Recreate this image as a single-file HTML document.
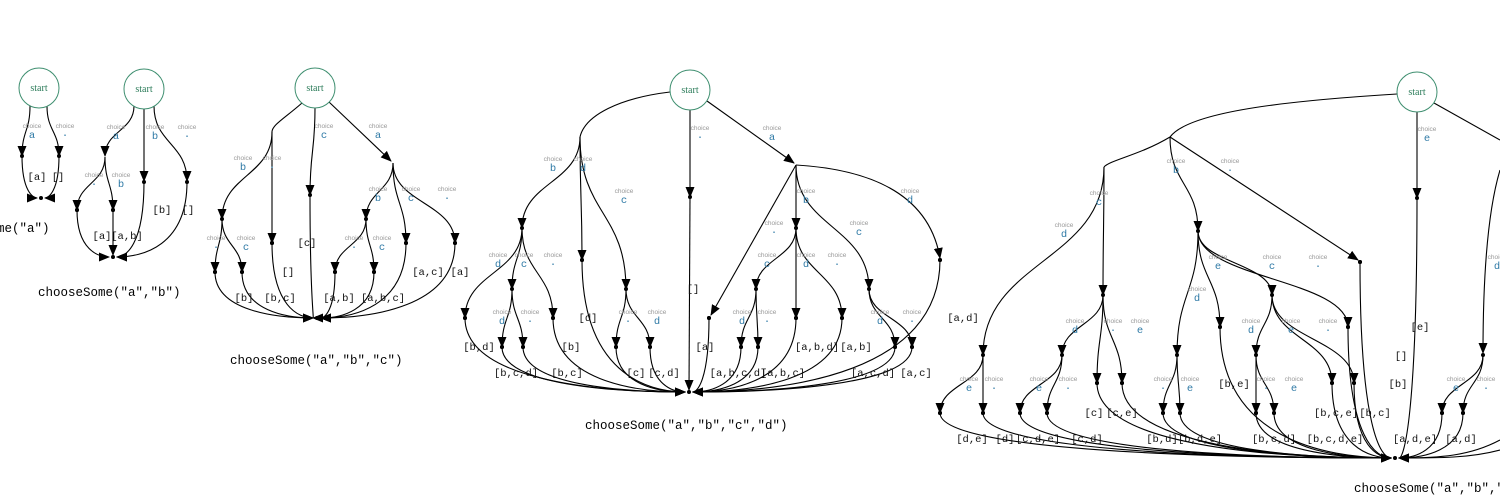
<!DOCTYPE html>
<html><head><meta charset="utf-8">
<style>
html,body{margin:0;padding:0;background:#fff;}
svg{display:block}
.ch{font-family:"Liberation Sans",sans-serif;font-size:6.5px;fill:#999;text-anchor:middle}
.cl{font-family:"Liberation Mono",monospace;font-size:10.5px;fill:#2f7aa6;text-anchor:middle}
.lb{font-family:"Liberation Mono",monospace;font-size:10.5px;fill:#111;text-anchor:middle}
.cap{font-family:"Liberation Mono","DejaVu Sans Mono",monospace;font-size:12.5px;fill:#000}
.st{font-family:"Liberation Serif",serif;font-size:10px;fill:#2e7d5b;text-anchor:middle}
</style></head><body>
<svg id="s" width="1500" height="500" viewBox="0 0 1500 500" xmlns="http://www.w3.org/2000/svg">
<defs><marker id="a" markerUnits="userSpaceOnUse" markerWidth="11" markerHeight="9" refX="10" refY="4.5" orient="auto"><path d="M0,0 L11,4.5 L0,9 z" fill="#000"/></marker></defs>
<g id="edges" fill="none" stroke="#000" stroke-width="1.1"></g>
<g fill="#fff" stroke="#3f8f70" stroke-width="1">
<circle cx="39" cy="88" r="20"/><circle cx="144" cy="89" r="20"/><circle cx="315" cy="88" r="20"/><circle cx="690" cy="90" r="20"/><circle cx="1417" cy="92" r="20"/>
</g>
<text class="st" x="39" y="91">start</text><text class="st" x="144" y="92">start</text><text class="st" x="315" y="91">start</text><text class="st" x="690" y="93">start</text><text class="st" x="1417" y="95">start</text>
<g id="dots" fill="#000"></g>

<g>
<text class="ch" x="32" y="128">choice</text><text class="cl" x="32" y="138">a</text>
<text class="ch" x="65" y="128">choice</text><text class="cl" x="65" y="138">·</text>
<text class="ch" x="116" y="129">choice</text><text class="cl" x="116" y="139">a</text>
<text class="ch" x="155" y="129">choice</text><text class="cl" x="155" y="139">b</text>
<text class="ch" x="187" y="129">choice</text><text class="cl" x="187" y="139">·</text>
<text class="ch" x="94" y="177">choice</text><text class="cl" x="94" y="187">·</text>
<text class="ch" x="121" y="177">choice</text><text class="cl" x="121" y="187">b</text>

<text class="ch" x="324" y="128">choice</text><text class="cl" x="324" y="138">c</text>
<text class="ch" x="378" y="128">choice</text><text class="cl" x="378" y="138">a</text>
<text class="ch" x="243" y="160">choice</text><text class="cl" x="243" y="170">b</text>
<text class="ch" x="272" y="160">choice</text><text class="cl" x="272" y="170">·</text>
<text class="ch" x="378" y="191">choice</text><text class="cl" x="378" y="201">b</text>
<text class="ch" x="411" y="191">choice</text><text class="cl" x="411" y="201">c</text>
<text class="ch" x="447" y="191">choice</text><text class="cl" x="447" y="201">·</text>
<text class="ch" x="216" y="240">choice</text><text class="cl" x="216" y="250">·</text>
<text class="ch" x="246" y="240">choice</text><text class="cl" x="246" y="250">c</text>
<text class="ch" x="354" y="240">choice</text><text class="cl" x="354" y="250">·</text>
<text class="ch" x="382" y="240">choice</text><text class="cl" x="382" y="250">c</text>

<text class="ch" x="553" y="161">choice</text><text class="cl" x="553" y="171">b</text>
<text class="ch" x="583" y="161">choice</text><text class="cl" x="583" y="171">d</text>
<text class="ch" x="624" y="193">choice</text><text class="cl" x="624" y="203">c</text>
<text class="ch" x="700" y="130">choice</text><text class="cl" x="700" y="140">·</text>
<text class="ch" x="772" y="130">choice</text><text class="cl" x="772" y="140">a</text>
<text class="ch" x="806" y="193">choice</text><text class="cl" x="806" y="203">b</text>
<text class="ch" x="910" y="193">choice</text><text class="cl" x="910" y="203">d</text>
<text class="ch" x="774" y="225">choice</text><text class="cl" x="774" y="235">·</text>
<text class="ch" x="859" y="225">choice</text><text class="cl" x="859" y="235">c</text>
<text class="ch" x="498" y="257">choice</text><text class="cl" x="498" y="267">d</text>
<text class="ch" x="524" y="257">choice</text><text class="cl" x="524" y="267">c</text>
<text class="ch" x="553" y="257">choice</text><text class="cl" x="553" y="267">·</text>
<text class="ch" x="767" y="257">choice</text><text class="cl" x="767" y="267">c</text>
<text class="ch" x="806" y="257">choice</text><text class="cl" x="806" y="267">d</text>
<text class="ch" x="837" y="257">choice</text><text class="cl" x="837" y="267">·</text>
<text class="ch" x="502" y="314">choice</text><text class="cl" x="502" y="324">d</text>
<text class="ch" x="530" y="314">choice</text><text class="cl" x="530" y="324">·</text>
<text class="ch" x="628" y="314">choice</text><text class="cl" x="628" y="324">·</text>
<text class="ch" x="657" y="314">choice</text><text class="cl" x="657" y="324">d</text>
<text class="ch" x="742" y="314">choice</text><text class="cl" x="742" y="324">d</text>
<text class="ch" x="767" y="314">choice</text><text class="cl" x="767" y="324">·</text>
<text class="ch" x="880" y="314">choice</text><text class="cl" x="880" y="324">d</text>
<text class="ch" x="912" y="314">choice</text><text class="cl" x="912" y="324">·</text>

<text class="ch" x="1176" y="163">choice</text><text class="cl" x="1176" y="173">b</text>
<text class="ch" x="1230" y="163">choice</text><text class="cl" x="1230" y="173">·</text>
<text class="ch" x="1099" y="195">choice</text><text class="cl" x="1099" y="205">c</text>
<text class="ch" x="1064" y="227">choice</text><text class="cl" x="1064" y="237">d</text>
<text class="ch" x="1427" y="131">choice</text><text class="cl" x="1427" y="141">e</text>
<text class="ch" x="1218" y="259">choice</text><text class="cl" x="1218" y="269">e</text>
<text class="ch" x="1272" y="259">choice</text><text class="cl" x="1272" y="269">c</text>
<text class="ch" x="1318" y="259">choice</text><text class="cl" x="1318" y="269">·</text>
<text class="ch" x="1497" y="259">choice</text><text class="cl" x="1497" y="269">d</text>
<text class="ch" x="1197" y="291">choice</text><text class="cl" x="1197" y="301">d</text>
<text class="ch" x="1075" y="323">choice</text><text class="cl" x="1075" y="333">d</text>
<text class="ch" x="1113" y="323">choice</text><text class="cl" x="1113" y="333">·</text>
<text class="ch" x="1140" y="323">choice</text><text class="cl" x="1140" y="333">e</text>
<text class="ch" x="1251" y="323">choice</text><text class="cl" x="1251" y="333">d</text>
<text class="ch" x="1291" y="323">choice</text><text class="cl" x="1291" y="333">e</text>
<text class="ch" x="1328" y="323">choice</text><text class="cl" x="1328" y="333">·</text>
<text class="ch" x="969" y="381">choice</text><text class="cl" x="969" y="391">e</text>
<text class="ch" x="994" y="381">choice</text><text class="cl" x="994" y="391">·</text>
<text class="ch" x="1039" y="381">choice</text><text class="cl" x="1039" y="391">e</text>
<text class="ch" x="1068" y="381">choice</text><text class="cl" x="1068" y="391">·</text>
<text class="ch" x="1163" y="381">choice</text><text class="cl" x="1163" y="391">·</text>
<text class="ch" x="1190" y="381">choice</text><text class="cl" x="1190" y="391">e</text>
<text class="ch" x="1266" y="381">choice</text><text class="cl" x="1266" y="391">·</text>
<text class="ch" x="1294" y="381">choice</text><text class="cl" x="1294" y="391">e</text>
<text class="ch" x="1456" y="381">choice</text><text class="cl" x="1456" y="391">e</text>
<text class="ch" x="1486" y="381">choice</text><text class="cl" x="1486" y="391">·</text>
</g>

<g>
<text class="lb" x="37" y="180">[a]</text><text class="lb" x="58" y="180">[]</text>
<text class="lb" x="102" y="239">[a]</text><text class="lb" x="127" y="239">[a,b]</text><text class="lb" x="162" y="213">[b]</text><text class="lb" x="188" y="213">[]</text>
<text class="lb" x="288" y="275">[]</text><text class="lb" x="307" y="246">[c]</text><text class="lb" x="244" y="301">[b]</text><text class="lb" x="280" y="301">[b,c]</text><text class="lb" x="339" y="301">[a,b]</text><text class="lb" x="383" y="301">[a,b,c]</text><text class="lb" x="428" y="275">[a,c]</text><text class="lb" x="460" y="275">[a]</text>
<text class="lb" x="479" y="350">[b,d]</text><text class="lb" x="516" y="376">[b,c,d]</text><text class="lb" x="567" y="376">[b,c]</text><text class="lb" x="571" y="350">[b]</text><text class="lb" x="588" y="321">[d]</text><text class="lb" x="636" y="376">[c]</text><text class="lb" x="664" y="376">[c,d]</text><text class="lb" x="693" y="292">[]</text><text class="lb" x="705" y="350">[a]</text><text class="lb" x="738" y="376">[a,b,c,d]</text><text class="lb" x="783" y="376">[a,b,c]</text><text class="lb" x="817" y="350">[a,b,d]</text><text class="lb" x="856" y="350">[a,b]</text><text class="lb" x="873" y="376">[a,c,d]</text><text class="lb" x="916" y="376">[a,c]</text><text class="lb" x="963" y="321">[a,d]</text>
<text class="lb" x="972" y="442">[d,e]</text><text class="lb" x="1005" y="442">[d]</text><text class="lb" x="1038" y="442">[c,d,e]</text><text class="lb" x="1087" y="442">[c,d]</text><text class="lb" x="1094" y="416">[c]</text><text class="lb" x="1122" y="416">[c,e]</text><text class="lb" x="1162" y="442">[b,d]</text><text class="lb" x="1200" y="442">[b,d,e]</text><text class="lb" x="1234" y="387">[b,e]</text><text class="lb" x="1274" y="442">[b,c,d]</text><text class="lb" x="1335" y="442">[b,c,d,e]</text><text class="lb" x="1336" y="416">[b,c,e]</text><text class="lb" x="1375" y="416">[b,c]</text><text class="lb" x="1398" y="387">[b]</text><text class="lb" x="1401" y="359">[]</text><text class="lb" x="1420" y="330">[e]</text><text class="lb" x="1415" y="442">[a,d,e]</text><text class="lb" x="1461" y="442">[a,d]</text>
</g>

<text class="cap" x="-63" y="232">chooseSome("a")</text>
<text class="cap" x="38" y="296">chooseSome("a","b")</text>
<text class="cap" x="230" y="364">chooseSome("a","b","c")</text>
<text class="cap" x="585" y="429">chooseSome("a","b","c","d")</text>
<text class="cap" x="1354" y="492">chooseSome("a","b","c","d","e")</text>
</svg>
<script>
(function(){
var NS="http://www.w3.org/2000/svg",E=document.getElementById("edges"),D=document.getElementById("dots");
function p(d,arrow){var e=document.createElementNS(NS,"path");e.setAttribute("d",d);if(arrow)e.setAttribute("marker-end","url(#a)");E.appendChild(e);}
function dn(x1,y1,x2,y2,ar){var k=(y2-y1)*0.5;p("M"+x1+","+y1+" C"+x1+","+(y1+k)+" "+x2+","+(y2-k)+" "+x2+","+y2,ar!==false);}
function dot(x,y){var c=document.createElementNS(NS,"circle");c.setAttribute("cx",x);c.setAttribute("cy",y);c.setAttribute("r",2);D.appendChild(c);}
function toEnd(ex,ey,list){dot(ex,ey);for(var i=0;i<list.length;i+=2){var x=list[i],y=list[i+1];dot(x,y);var dx=x-ex;var tx=ex+(dx>0?4:dx<0?-4:0);
 if(Math.abs(dx)<3){p("M"+x+","+y+" L"+ex+","+(ey-2),true);continue;}
 p("M"+x+","+y+" C"+x+","+(y+(ey-y)*0.85)+" "+(ex+dx*0.4)+","+ey+" "+tx+","+ey,true);}}
function br(px,py,list){for(var i=0;i<list.length;i+=2){dot(list[i],list[i+1]);dn(px,py,list[i],list[i+1]);}}
dn(30,106,22,156);dn(47,106,59,156);toEnd(41,198,[22,156,59,156]);
dn(134,106,105,156);dn(144,109,144,181);dn(154,106,187,181);br(105,157,[77,210,113,210]);toEnd(113,257,[77,210,113,210,144,182,187,182]);
p("M302,103 C285,118 272,125 272,132");br(272,132,[222,219,272,243]);dn(315,108,310,195);p("M329,102 L391,161",true);
br(393,163,[366,219,406,243,455,243]);br(222,219,[215,272,242,272]);br(366,219,[335,272,374,272]);
toEnd(317,318,[215,272,242,272,272,243,310,195,335,272,374,272,406,243,455,243]);
p("M670,92 C620,98 585,115 580,137");br(580,137,[522,228,582,260,626,289]);dn(690,110,690,197);p("M707,101 L794,163",true);
br(522,228,[465,318,512,289,553,318]);br(512,289,[502,347,523,347]);br(626,289,[616,347,650,347]);
dot(709,318);p("M796,165 L711,315",true);
br(796,165,[796,228,869,289]);dot(940,260);p("M796,165 C880,170 930,200 940,258",true);
br(796,228,[756,289,796,318,842,318]);br(756,289,[741,347,758,347]);br(869,289,[895,347,912,347]);
toEnd(689,392,[465,318,502,347,523,347,553,318,582,260,616,347,650,347,690,197,709,318,741,347,758,347,796,318,842,318,895,347,912,347,940,260]);
p("M1397,94 C1300,100 1190,110 1170,137");p("M1170,137 C1140,155 1110,160 1104,167");
br(1104,167,[983,355,1103,295]);br(1170,137,[1198,231]);p("M1170,137 L1358,260",true);dot(1360,262);
dn(1417,112,1417,198);p("M1434,103 L1500,140");p("M1500,170 C1485,220 1483,300 1483,353",true);dot(1483,355);
br(983,355,[940,413,983,413]);br(1103,295,[1062,355,1097,383,1122,383]);br(1062,355,[1020,413,1047,413]);
br(1198,231,[1177,355,1220,327,1272,295,1348,327]);br(1177,355,[1163,413,1180,413]);br(1272,295,[1256,355,1332,383,1354,383]);
br(1256,355,[1256,413,1274,413]);br(1483,355,[1442,413,1463,413]);
toEnd(1395,458,[940,413,983,413,1020,413,1047,413,1097,383,1122,383,1163,413,1180,413,1220,327,1256,413,1274,413,1332,383,1354,383,1348,327,1360,262,1417,198,1442,413,1463,413]);
p("M1500,440 C1470,456 1440,458 1399,458",true);p("M1500,450 C1470,458 1440,458 1399,458");
})();
</script>
</body></html>
